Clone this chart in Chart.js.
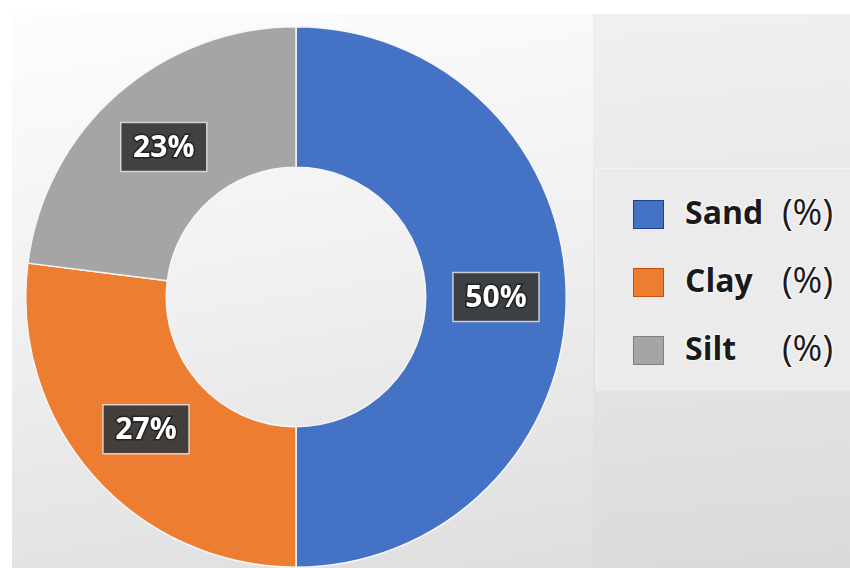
<!DOCTYPE html>
<html>
<head>
<meta charset="utf-8">
<script src="https://cdn.jsdelivr.net/npm/chart.js@4.4.1/dist/chart.umd.min.js"></script>
<style>
  html, body { margin: 0; padding: 0; background: #fff; }
  #page { position: relative; width: 850px; height: 568px; overflow: hidden; background: #fff; }
  #leftPanel { position: absolute; left: 12px; top: 14px; width: 581px; height: 554px;
    background: linear-gradient(170deg, #fdfdfd 0%, #f1f1f1 45%, #dedede 100%); }
  #rightPanel { position: absolute; left: 593px; top: 14px; width: 257px; height: 554px;
    background: linear-gradient(175deg, #f0f0f0 0%, #e4e4e4 60%, #dadada 100%); }
  #legendBox { position: absolute; left: 596px; top: 168px; width: 254px; height: 222px;
    background: #ebebeb; border-left: 1px solid #f4f4f4; border-top: 1px solid #f4f4f4; }
  #chartWrap { position: absolute; left: 25px; top: 26px; width: 542px; height: 542px; }
  #legend { position: absolute; left: 633px; top: 194px; font-family: "Open Sans", "Noto Sans", sans-serif; color: #1a1a1a; }
  .row { position: absolute; left: 0; height: 40px; width: 220px; }
  .sw { position: absolute; left: 0; top: 6px; width: 29px; height: 27px; border: 1.5px solid; }
  .name { position: absolute; left: 52px; top: -4px; font-size: 32px; font-weight: 700; text-shadow: 0 0 3px #fff, 0 0 3px #fff; }
  .unit { position: absolute; left: 149px; top: -7px; font-size: 36px; font-weight: 400; text-shadow: 0 0 3px #fff, 0 0 3px #fff; }
</style>
</head>
<body>
<div id="page">
  <div id="leftPanel"></div>
  <div id="rightPanel"></div>
  <div id="legendBox"></div>
  <div id="chartWrap"><canvas id="soil"></canvas></div>
  <div id="legend"></div>
</div>

<script>
var categories = ["Sand", "Clay", "Silt"];
var unitLabel = "(%)";
var values = [50, 27, 23];
var colors = ["#4472c4", "#ed7d31", "#a5a5a5"];
var edgeColors = ["#1f3f9a", "#c94d0c", "#7f7f7f"];

// draws the dark value boxes in the middle of each slice
var valueBoxes = {
  id: 'valueBoxes',
  afterDatasetsDraw: function(chart) {
    var ctx = chart.ctx;
    var meta = chart.getDatasetMeta(0);
    meta.data.forEach(function(arc, i) {
      var p = arc.tooltipPosition();
      var w = 86, h = 49;
      ctx.save();
      ctx.fillStyle = "rgba(60,60,60,0.95)";
      ctx.strokeStyle = "rgba(235,235,235,0.8)";
      ctx.lineWidth = 1.5;
      ctx.fillRect(p.x - w / 2, p.y - h / 2, w, h);
      ctx.strokeRect(p.x - w / 2, p.y - h / 2, w, h);
      ctx.font = "bold 30px 'Open Sans', 'Noto Sans', sans-serif";
      ctx.textAlign = "center";
      ctx.textBaseline = "middle";
      ctx.lineWidth = 3;
      ctx.strokeStyle = "#222";
      var txt = chart.data.datasets[0].data[i] + "%";
      ctx.strokeText(txt, p.x, p.y + 1);
      ctx.fillStyle = "#fff";
      ctx.fillText(txt, p.x, p.y + 1);
      ctx.restore();
    });
  }
};

var ctx = document.getElementById("soil");
var soilChart = new Chart(ctx, {
  type: 'doughnut',
  data: {
    labels: categories,
    datasets: [{
      data: values,
      backgroundColor: colors,
      borderColor: "#f6f6f6",
      borderWidth: 1.5
    }]
  },
  options: {
    responsive: true,
    maintainAspectRatio: false,
    animation: false,
    cutout: '48%',
    layout: { padding: 0 },
    plugins: {
      legend: { display: false },
      tooltip: { enabled: false }
    }
  },
  plugins: [valueBoxes]
});

// legend built from the same arrays
var legendEl = document.getElementById("legend");
categories.forEach(function(name, i) {
  var row = document.createElement("div");
  row.className = "row";
  row.style.top = (i * 68) + "px";
  row.innerHTML = '<div class="sw" style="background:' + colors[i] + ';border-color:' + edgeColors[i] + '"></div>' +
    '<span class="name">' + name + '</span><span class="unit">' + unitLabel + '</span>';
  legendEl.appendChild(row);
});
</script>
</body>
</html>
